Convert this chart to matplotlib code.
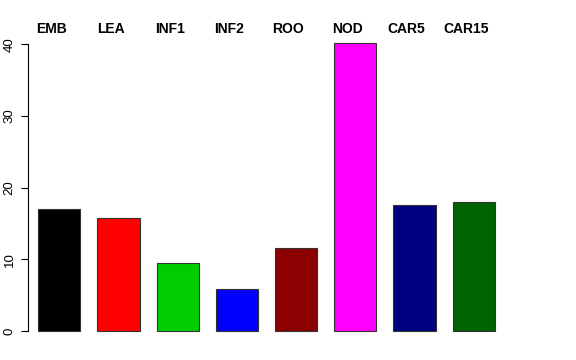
import matplotlib
matplotlib.use("Agg")
import matplotlib.pyplot as plt

categories = ["EMB", "LEA", "INF1", "INF2", "ROO", "NOD", "CAR5", "CAR15"]
values = [17.0, 15.7, 9.45, 5.8, 11.6, 40.1, 17.6, 18.0]
colors = ["#000000", "#FF0000", "#00CD00", "#0000FF", "#8B0000", "#FF00FF", "#000080", "#006400"]
yticks = [0, 10, 20, 30, 40]

plt.rcParams['font.family'] = ['Liberation Sans', 'DejaVu Sans']

W, H = 576, 360
fig = plt.figure(figsize=(W / 100, H / 100), dpi=100)
left_px, right_px, bottom_px = 28.3, 560, 331
ppu = 7.17  # pixels per unit
ytop = 42
top_px = bottom_px - ytop * ppu
ax = fig.add_axes([left_px / W, 1 - bottom_px / H, (right_px - left_px) / W, (bottom_px - top_px) / H])

step = 59.2
x0 = (left_px - 59.3) / step
x1 = (right_px - 59.3) / step
xs = list(range(len(categories)))
ax.bar(xs, values, width=0.71, color=colors, edgecolor="#333333", linewidth=0.8, clip_on=False)
ax.set_xlim(x0, x1)
ax.set_ylim(0, ytop)

for s in ["top", "right", "bottom"]:
    ax.spines[s].set_visible(False)
ax.spines["left"].set_bounds(0, 40)
ax.spines["left"].set_linewidth(0.8)
ax.set_xticks([])
ax.set_yticks(yticks)
ax.set_yticklabels([str(t) for t in yticks], rotation=90, va="center", fontsize=9.5)
ax.tick_params(axis="y", length=5, width=0.8, pad=4)

for x, c in zip(xs, categories):
    ax.text(x - 0.135, 41.5, c, ha="center", va="baseline", fontsize=10, fontweight="bold", clip_on=False)

fig.savefig("out.png", dpi=100)
